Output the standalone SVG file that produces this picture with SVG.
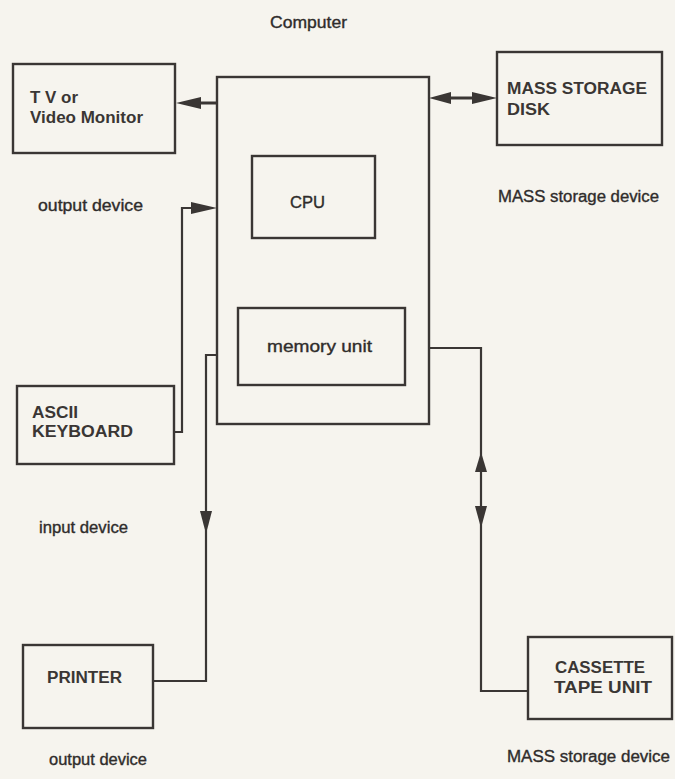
<svg xmlns="http://www.w3.org/2000/svg" width="675" height="779" viewBox="0 0 675 779">
<style>
.box{fill:none;stroke:#3a3634;stroke-width:2.4}
.ln{fill:none;stroke:#3a3634;stroke-width:2.2;stroke-linejoin:miter}
.thick{stroke-width:3}
.head{fill:#3a3634}
.lbl{font-family:"Liberation Sans",Arial,sans-serif;font-size:16px;font-weight:bold;fill:#3a3634}
.cap{font-family:"Liberation Sans",Arial,sans-serif;font-size:16px;fill:#2f2c2b;stroke:#2f2c2b;stroke-width:0.35}
</style>
<rect x="0" y="0" width="675" height="779" fill="#f6f4ee"/>
<g id="connectors">
  <!-- computer to TV -->
  <line class="ln thick" x1="217" y1="103" x2="190" y2="103"/>
  <polygon class="head" points="176,103 201,97 201,109"/>
  <!-- keyboard to computer -->
  <path class="ln" d="M174,432 H182 V208 H200"/>
  <polygon class="head" points="217,208 191,202 191,214"/>
  <!-- computer <-> mass storage disk -->
  <line class="ln thick" x1="440" y1="98" x2="485" y2="98"/>
  <polygon class="head" points="429,98 451,92 451,104"/>
  <polygon class="head" points="497,98 472,92 472,104"/>
  <!-- computer to printer -->
  <path class="ln" d="M217,355 H206 V520"/>
  <polygon class="head" points="206,534 200,511 212,511"/>
  <path class="ln" d="M206,530 V681 H153"/>
  <!-- computer <-> cassette -->
  <path class="ln" d="M429,348 H481 V691 H528"/>
  <polygon class="head" points="481,452 475,472 487,472"/>
  <polygon class="head" points="481,528 475,506 487,506"/>
</g>
<g id="computer">
  <rect class="box" x="217" y="77" width="212" height="347"/>
  <text class="cap" x="270" y="28" textLength="77" lengthAdjust="spacingAndGlyphs">Computer</text>
</g>
<g id="cpu">
  <rect class="box" x="252" y="156" width="123" height="82"/>
  <text class="cap" x="290" y="208" textLength="35" lengthAdjust="spacingAndGlyphs">CPU</text>
</g>
<g id="memory">
  <rect class="box" x="238" y="308" width="167" height="77"/>
  <text class="cap" x="267" y="352" textLength="105" lengthAdjust="spacingAndGlyphs">memory unit</text>
</g>
<g id="tv">
  <rect class="box" x="13" y="64" width="162" height="89"/>
  <text class="lbl" x="30" y="103" textLength="48" lengthAdjust="spacingAndGlyphs">T V or</text>
  <text class="lbl" x="30" y="123" textLength="113" lengthAdjust="spacingAndGlyphs">Video Monitor</text>
  <text class="cap" x="38" y="211" textLength="105" lengthAdjust="spacingAndGlyphs">output device</text>
</g>
<g id="disk">
  <rect class="box" x="497" y="52" width="165" height="93"/>
  <text class="lbl" x="507" y="94" textLength="140" lengthAdjust="spacingAndGlyphs">MASS STORAGE</text>
  <text class="lbl" x="507" y="115" textLength="43" lengthAdjust="spacingAndGlyphs">DISK</text>
  <text class="cap" x="498" y="202" textLength="161" lengthAdjust="spacingAndGlyphs">MASS storage device</text>
</g>
<g id="keyboard">
  <rect class="box" x="17" y="386" width="157" height="78"/>
  <text class="lbl" x="32" y="418" textLength="46" lengthAdjust="spacingAndGlyphs">ASCII</text>
  <text class="lbl" x="32" y="437" textLength="101" lengthAdjust="spacingAndGlyphs">KEYBOARD</text>
  <text class="cap" x="39" y="533" textLength="89" lengthAdjust="spacingAndGlyphs">input device</text>
</g>
<g id="printer">
  <rect class="box" x="23" y="645" width="130" height="83"/>
  <text class="lbl" x="47" y="683" textLength="75" lengthAdjust="spacingAndGlyphs">PRINTER</text>
  <text class="cap" x="49" y="765" textLength="98" lengthAdjust="spacingAndGlyphs">output device</text>
</g>
<g id="cassette">
  <rect class="box" x="528" y="637" width="144" height="82"/>
  <text class="lbl" x="555" y="673" textLength="90" lengthAdjust="spacingAndGlyphs">CASSETTE</text>
  <text class="lbl" x="554" y="693" textLength="98" lengthAdjust="spacingAndGlyphs">TAPE UNIT</text>
  <text class="cap" x="507" y="762" textLength="163" lengthAdjust="spacingAndGlyphs">MASS storage device</text>
</g>
</svg>
